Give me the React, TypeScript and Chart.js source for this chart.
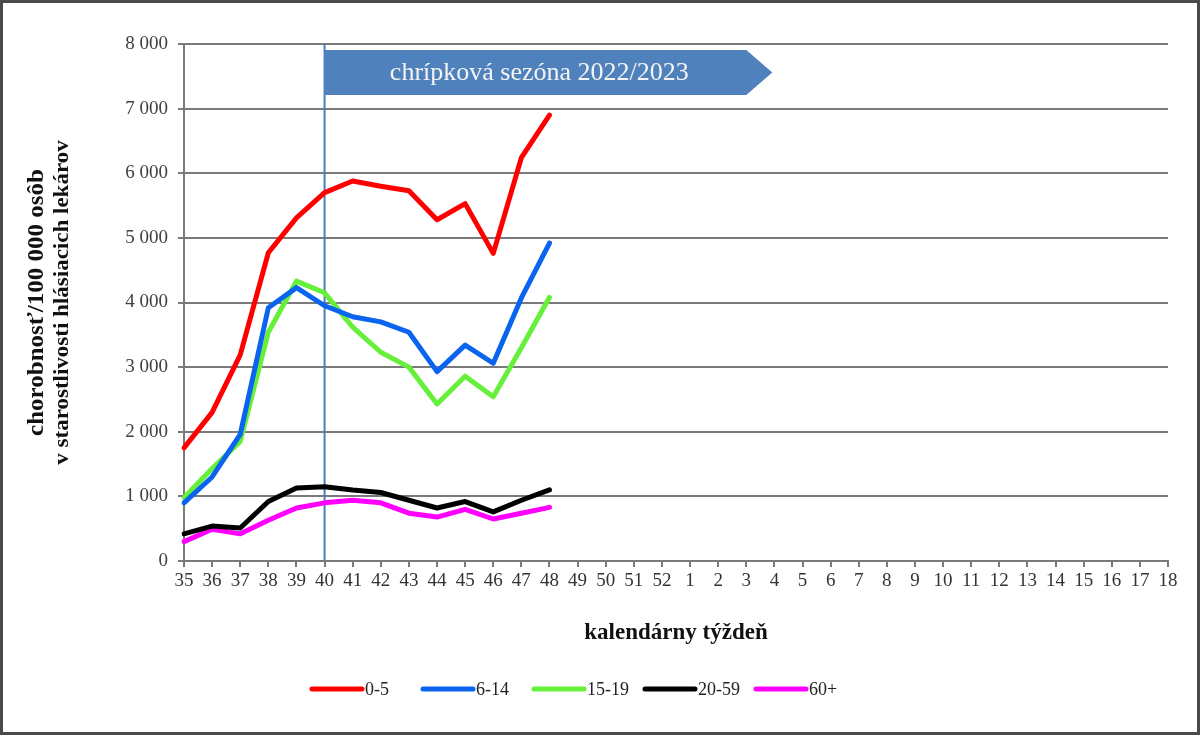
import React, { useEffect, useRef } from 'react';
import { Chart, registerables } from 'chart.js';

Chart.register(...registerables);

const weeks = [
  '35', '36', '37', '38', '39', '40', '41', '42', '43', '44', '45', '46', '47', '48', '49', '50', '51', '52',
  '1', '2', '3', '4', '5', '6', '7', '8', '9', '10', '11', '12', '13', '14', '15', '16', '17', '18',
];

const ageGroups = ['0-5', '6-14', '15-19', '20-59', '60+'];
const groupColors = ['#ff0000', '#0a64f0', '#66f03a', '#000000', '#ff00ff'];

const values0to5 = [1750, 2300, 3190, 4770, 5310, 5700, 5880, 5800, 5730, 5280, 5530, 4760, 6240, 6900];
const values6to14 = [900, 1300, 1960, 3920, 4230, 3950, 3780, 3700, 3540, 2930, 3340, 3060, 4070, 4920];
const values15to19 = [980, 1430, 1850, 3540, 4330, 4150, 3620, 3230, 3000, 2430, 2860, 2540, 3300, 4080];
const values20to59 = [420, 540, 510, 920, 1130, 1150, 1100, 1060, 940, 820, 920, 760, 940, 1100];
const values60plus = [300, 490, 420, 630, 820, 900, 940, 900, 740, 680, 800, 650, 740, 830];

const seasonStartWeek = '40';
const seasonBannerEndWeek = '3';
const seasonLabel = 'chrípková sezóna 2022/2023';

const yTicks = [0, 1000, 2000, 3000, 4000, 5000, 6000, 7000, 8000];
const yTitle = ['chorobnosť/100 000 osôb', 'v starostlivosti hlásiacich lekárov'];
const xTitle = 'kalendárny týždeň';

const SERIF = "'Liberation Serif', 'Times New Roman', serif";

function fmt(v: number): string {
  if (v === 0) return '0';
  const th = Math.floor(v / 1000);
  const rest = v % 1000;
  return `${th} ${String(rest).padStart(3, '0')}`;
}

const seasonPlugin = {
  id: 'seasonMarker',
  beforeDatasetsDraw(chart: any) {
    const { ctx, chartArea, scales } = chart;
    const x = scales.x.getPixelForValue(weeks.indexOf(seasonStartWeek));
    ctx.save();
    ctx.strokeStyle = '#4a7ebb';
    ctx.lineWidth = 2;
    ctx.beginPath();
    ctx.moveTo(x, chartArea.top);
    ctx.lineTo(x, chartArea.bottom);
    ctx.stroke();
    ctx.restore();
  },
  afterDatasetsDraw(chart: any) {
    const { ctx, chartArea, scales } = chart;
    const x0 = scales.x.getPixelForValue(weeks.indexOf(seasonStartWeek));
    const x1 = scales.x.getPixelForValue(weeks.indexOf(seasonBannerEndWeek));
    const top = chartArea.top + 6;
    const h = 45;
    const tip = 26;
    ctx.save();
    ctx.fillStyle = '#4f81bd';
    ctx.beginPath();
    ctx.moveTo(x0, top);
    ctx.lineTo(x1, top);
    ctx.lineTo(x1 + tip, top + h / 2);
    ctx.lineTo(x1, top + h);
    ctx.lineTo(x0, top + h);
    ctx.closePath();
    ctx.fill();
    ctx.fillStyle = '#f4f4f4';
    ctx.font = `26px ${SERIF}`;
    ctx.textAlign = 'center';
    ctx.textBaseline = 'middle';
    ctx.fillText(seasonLabel, (x0 + x1 + tip * 0.3) / 2, top + h / 2 + 1);
    ctx.restore();
  },
};

const yTitlePlugin = {
  id: 'yTitle',
  afterDraw(chart: any) {
    const { ctx, chartArea } = chart;
    const cy = (chartArea.top + chartArea.bottom) / 2;
    const sizes = [25, 23];
    const xs = [37, 63];
    ctx.save();
    ctx.fillStyle = '#111';
    ctx.textAlign = 'center';
    ctx.textBaseline = 'middle';
    yTitle.forEach((line, i) => {
      ctx.save();
      ctx.translate(xs[i], cy);
      ctx.rotate(-Math.PI / 2);
      ctx.scale(1, 0.9);
      ctx.font = `bold ${sizes[i]}px ${SERIF}`;
      ctx.fillText(line, 0, 0);
      ctx.restore();
    });
    ctx.restore();
  },
};

const legendPlugin = {
  id: 'customLegend',
  afterDraw(chart: any) {
    const { ctx } = chart;
    const y = 689;
    const startX = 310;
    const pitch = 111;
    const lineLen = 52;
    ctx.save();
    chart.data.datasets.forEach((ds: any, i: number) => {
      const x = startX + i * pitch;
      ctx.strokeStyle = ds.borderColor;
      ctx.lineWidth = 5;
      ctx.lineCap = 'round';
      ctx.beginPath();
      ctx.moveTo(x + 2, y);
      ctx.lineTo(x + lineLen, y);
      ctx.stroke();
      ctx.fillStyle = '#222';
      ctx.font = `18px ${SERIF}`;
      ctx.textAlign = 'left';
      ctx.textBaseline = 'middle';
      ctx.fillText(ds.label, x + lineLen + 3, y + 1);
    });
    ctx.restore();
  },
};

const framePlugin = {
  id: 'frame',
  afterDraw(chart: any) {
    const { ctx, width, height } = chart;
    ctx.save();
    ctx.strokeStyle = '#4a4a4a';
    ctx.lineWidth = 3;
    ctx.strokeRect(1.5, 1.5, width - 3, height - 3);
    ctx.restore();
  },
};

export default function App() {
  const ref = useRef<HTMLCanvasElement>(null);

  useEffect(() => {
    document.body.style.margin = '0';
    const seriesValues = [values0to5, values6to14, values15to19, values20to59, values60plus];
    const chart = new Chart(ref.current as HTMLCanvasElement, {
      type: 'line',
      data: {
        labels: weeks,
        datasets: ageGroups.map((g, i) => ({
          label: g,
          data: weeks.map((_, k) => (k < seriesValues[i].length ? seriesValues[i][k] : null)),
          borderColor: groupColors[i],
          backgroundColor: groupColors[i],
          borderWidth: 5,
          pointRadius: 0,
          pointHoverRadius: 0,
          tension: 0,
          borderJoinStyle: 'round',
          borderCapStyle: 'round',
          fill: false,
        })),
      },
      options: {
        responsive: false,
        animation: false,
        devicePixelRatio: 1,
        layout: { padding: { left: 0, right: 32, top: 44, bottom: 0 } },
        plugins: {
          legend: { display: false },
          tooltip: { enabled: false },
        },
        scales: {
          x: {
            type: 'category',
            offset: false,
            grid: {
              display: true,
              drawOnChartArea: false,
              drawTicks: true,
              tickLength: 6,
              color: '#7a7a7a',
              lineWidth: 2,
            },
            border: { display: true, color: '#7a7a7a', width: 2 },
            ticks: {
              autoSkip: false,
              maxRotation: 0,
              minRotation: 0,
              padding: 3,
              color: '#333',
              font: { family: SERIF, size: 19 },
            },
            title: {
              display: true,
              text: xTitle,
              color: '#111',
              font: { family: SERIF, size: 23, weight: 'bold', lineHeight: 1.2 },
              padding: { top: 0, bottom: 88 },
            },
            afterFit(scale: any) {
              scale.height = 174;
            },
          },
          y: {
            min: 0,
            max: 8000,
            afterBuildTicks(scale: any) {
              scale.ticks = yTicks.map((v) => ({ value: v }));
            },
            grid: {
              color: '#7a7a7a',
              lineWidth: 2,
              drawTicks: true,
              tickLength: 6,
            },
            border: { display: true, color: '#7a7a7a', width: 2 },
            ticks: {
              padding: 10,
              color: '#404040',
              font: { family: SERIF, size: 19 },
              callback: (v: any) => fmt(Number(v)),
            },
            title: { display: false },
            afterFit(scale: any) {
              scale.width = 184;
            },
          },
        },
      } as any,
      plugins: [seasonPlugin, yTitlePlugin, legendPlugin, framePlugin],
    });
    return () => chart.destroy();
  }, []);

  return (
    <div style={{ width: 1200, height: 735 }}>
      <canvas ref={ref} width={1200} height={735} style={{ display: 'block' }} />
    </div>
  );
}
